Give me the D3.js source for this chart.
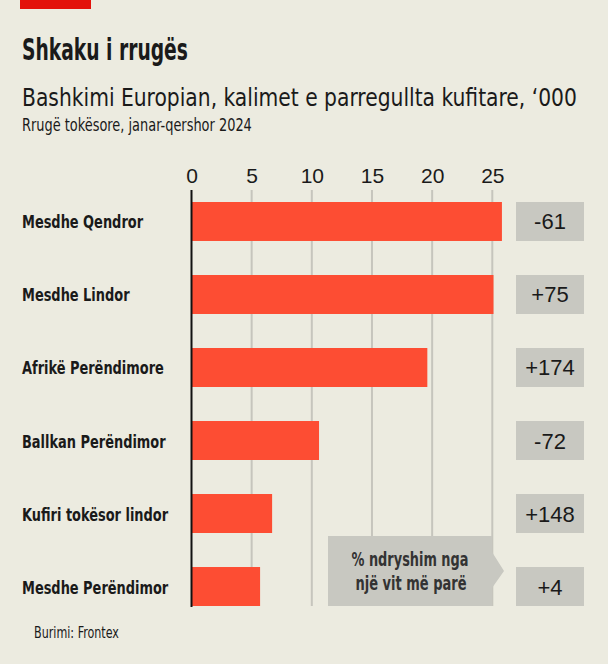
<!DOCTYPE html>
<html>
<head>
<meta charset="utf-8">
<script src="https://cdn.jsdelivr.net/npm/d3@7"></script>
<style>
  body { margin: 0; background: #ecebe0; }
  svg { display: block; }
  .cond { font-family: "DejaVu Sans Condensed", "DejaVu Sans", sans-serif; }
  .num { font-family: "Liberation Sans", Helvetica, Arial, sans-serif; }
</style>
</head>
<body>
<script>
/* DATA */
var categories = ["Mesdhe Qendror", "Mesdhe Lindor", "Afrikë Perëndimore", "Ballkan Perëndimor", "Kufiri tokësor lindor", "Mesdhe Perëndimor"];
var crossings = [25.8, 25.1, 19.6, 10.6, 6.7, 5.7];
var changes = ["-61", "+75", "+174", "-72", "+148", "+4"];
var ticks = [0, 5, 10, 15, 20, 25];

var width = 608, height = 664;

// no condensed font installed: squeeze text horizontally with a transform
function squeeze(sel, k) {
  sel.each(function() {
    var t = d3.select(this);
    var px = +t.attr("x"), py = +t.attr("y");
    t.attr("x", 0).attr("y", 0)
      .attr("transform", "translate(" + px + "," + py + ") scale(" + k + ",1)");
  });
}
function fitTo(sel, w) {
  sel.each(function() {
    var k = w / this.getComputedTextLength();
    d3.select(this).call(squeeze, k);
  });
}

var svg = d3.select("body").append("svg")
  .attr("width", width)
  .attr("height", height);

svg.append("rect").attr("width", width).attr("height", height).attr("fill", "#ecebe0");

// red tag top left
svg.append("rect").attr("x", 20).attr("y", 0).attr("width", 71).attr("height", 9).attr("fill", "#e3120b");

// titles
svg.append("text").attr("class", "cond").attr("x", 22).attr("y", 60)
  .attr("font-size", 30).attr("font-weight", "bold").attr("fill", "#1a1a1a")
  .text("Shkaku i rrugës").call(fitTo, 166);
svg.append("text").attr("class", "cond").attr("x", 22).attr("y", 106)
  .attr("font-size", 25).attr("fill", "#1a1a1a")
  .text("Bashkimi Europian, kalimet e parregullta kufitare, ‘000").call(fitTo, 555);
svg.append("text").attr("class", "cond").attr("x", 22).attr("y", 131)
  .attr("font-size", 18).attr("fill", "#1a1a1a")
  .text("Rrugë tokësore, janar-qershor 2024").call(fitTo, 230);

// scales
var x = d3.scaleLinear().domain([0, 25]).range([191.5, 492.3]);
var y = d3.scaleBand().domain(categories).range([202, 606]).paddingInner(0.466).paddingOuter(0);

var chart = svg.append("g");

// gridlines
chart.selectAll(".grid").data(ticks.slice(1)).enter().append("line")
  .attr("x1", function(d) { return x(d); })
  .attr("x2", function(d) { return x(d); })
  .attr("y1", 190).attr("y2", 606)
  .attr("stroke", "#c6c5bd").attr("stroke-width", 2);

// tick labels
var axis = chart.append("g")
  .attr("transform", "translate(0,183)")
  .call(d3.axisTop(x).tickValues(ticks).tickSize(0).tickPadding(0));
axis.select(".domain").remove();
axis.selectAll("text").attr("class", "num").attr("font-size", 21).attr("fill", "#1a1a1a")
  .attr("dy", 0);

// bars
chart.selectAll(".bar").data(categories).enter().append("rect")
  .attr("x", x(0))
  .attr("y", function(d) { return y(d); })
  .attr("width", function(d, i) { return x(crossings[i]) - x(0); })
  .attr("height", y.bandwidth())
  .attr("fill", "#fd4d33");

// zero line
chart.append("line").attr("x1", x(0)).attr("x2", x(0)).attr("y1", 190).attr("y2", 607)
  .attr("stroke", "#111").attr("stroke-width", 2);

// category labels
chart.selectAll(".cat").data(categories).enter().append("text")
  .attr("class", "cond")
  .attr("x", 22)
  .attr("y", function(d) { return y(d) + y.bandwidth() / 2 + 7; })
  .attr("font-size", 18).attr("font-weight", "bold").attr("fill", "#1a1a1a")
  .text(function(d) { return d; })
  .call(squeeze, 0.8);

// change boxes
var boxes = chart.selectAll(".chg").data(categories).enter().append("g");
boxes.append("rect")
  .attr("x", 516).attr("y", function(d) { return y(d); })
  .attr("width", 68).attr("height", y.bandwidth())
  .attr("fill", "#c8c8c1");
boxes.append("text").attr("class", "num")
  .attr("x", 550).attr("y", function(d) { return y(d) + y.bandwidth() / 2 + 8; })
  .attr("text-anchor", "middle").attr("font-size", 22).attr("fill", "#1a1a1a")
  .text(function(d, i) { return changes[i]; });

// callout
var cy = y(categories[5]);
chart.append("path")
  .attr("d", "M328," + (cy - 31) + "H492V" + (cy - 15) + "L504," + (cy + 4) + "L492," + (cy + 21) + "V" + (cy + 39) + "H328Z")
  .attr("fill", "#c8c8c1");
chart.append("text").attr("class", "cond").attr("x", 410).attr("y", cy - 1)
  .attr("text-anchor", "middle").attr("font-size", 19).attr("font-weight", "bold").attr("fill", "#333")
  .text("% ndryshim nga").call(fitTo, 117);
chart.append("text").attr("class", "cond").attr("x", 411).attr("y", cy + 23)
  .attr("text-anchor", "middle").attr("font-size", 19).attr("font-weight", "bold").attr("fill", "#333")
  .text("një vit më parë").call(fitTo, 111);

// source
svg.append("text").attr("class", "cond").attr("x", 34).attr("y", 638)
  .attr("font-size", 15).attr("fill", "#1a1a1a")
  .text("Burimi: Frontex").call(fitTo, 85);
</script>
</body>
</html>
